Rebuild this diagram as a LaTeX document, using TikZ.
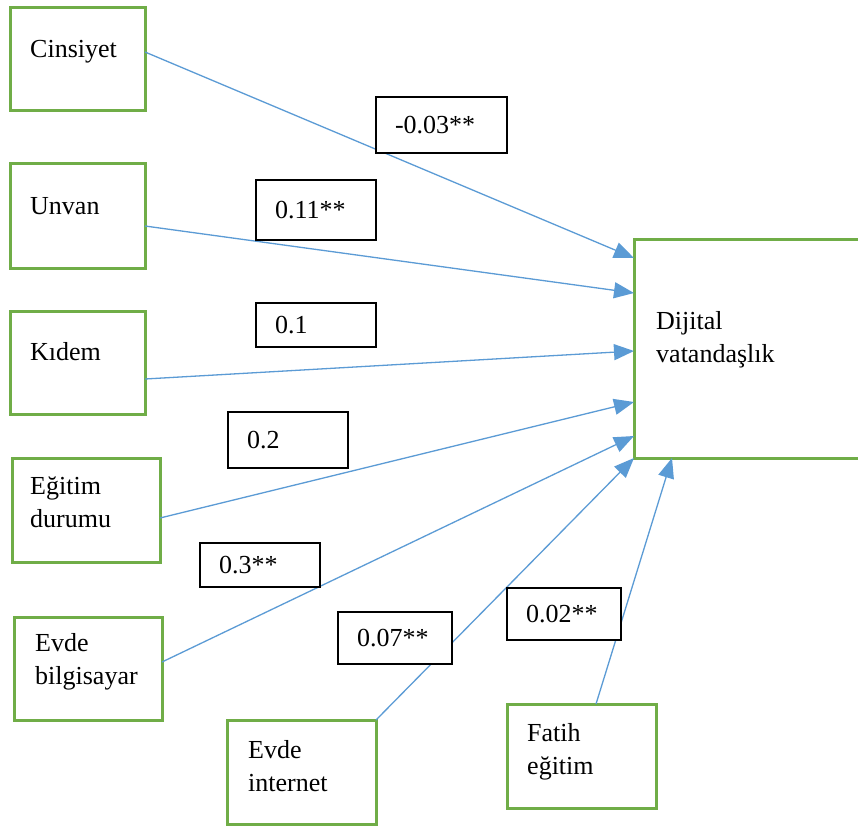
\documentclass[tikz,border=0pt]{standalone}
\usepackage{fontspec}
\setmainfont{Liberation Serif}
\usetikzlibrary{arrows.meta}
\definecolor{boxgreen}{RGB}{112,173,71}
\definecolor{arrowblue}{RGB}{91,155,213}
\tikzset{
  every node/.style={font=\fontsize{26}{33}\selectfont},
  varbox/.style={draw=boxgreen, line width=3pt, rectangle, outer sep=0pt, inner sep=0pt},
  varname/.style={anchor=base west, inner sep=0pt, align=left},
  coef/.style={draw=black, line width=1.4pt, fill=white, rectangle, inner xsep=19pt, inner ysep=0pt, align=left, outer sep=0pt},
  path/.style={draw=arrowblue, line width=1.3pt, -{Triangle[length=20pt,width=16pt]}},
}
\begin{document}
\begin{tikzpicture}[x=1pt,y=-1pt]
\useasboundingbox (0,0) rectangle (858,825);
\fill[white] (0,0) rectangle (858,825);

% predictor boxes
\node[varbox, minimum width=135pt, minimum height=103pt] (cin) at (77.5,58.5) {};
\node[varbox, minimum width=135pt, minimum height=105pt] (unv) at (77.5,215.5) {};
\node[varbox, minimum width=135pt, minimum height=103pt] (kid) at (77.5,362.5) {};
\node[varbox, minimum width=148pt, minimum height=104pt] (egi) at (86,510) {};
\node[varbox, minimum width=148pt, minimum height=103pt] (bil) at (88,668.5) {};
\node[varbox, minimum width=149pt, minimum height=104pt] (int) at (301.5,772) {};
\node[varbox, minimum width=149pt, minimum height=104pt] (fat) at (581.5,756) {};
% outcome box
\node[varbox, minimum width=236pt, minimum height=219pt] (dv) at (752,348.5) {};

% box captions (base anchor sits on the last line)
\node[varname] at (30,57) {Cinsiyet};
\node[varname] at (30,214) {Unvan};
\node[varname] at (30,360) {Kıdem};
\node[varname] at (30,527) {Eğitim\\durumu};
\node[varname] at (35,684) {Evde\\bilgisayar};
\node[varname] at (248,791) {Evde\\internet};
\node[varname] at (527,774) {Fatih\\eğitim};
\node[varname] at (656,362) {Dijital\\vatandaşlık};

% paths into the outcome
\draw[path] ([yshift=-45pt]cin.north east) -- ([yshift=-19pt]dv.north west);
\draw[path] ([yshift=-63pt]unv.north east) -- ([yshift=-54pt]dv.north west);
\draw[path] ([yshift=-68pt]kid.north east) -- ([yshift=-112pt]dv.north west);
\draw[path] ([yshift=-60pt]egi.north east) -- ([yshift=-163pt]dv.north west);
\draw[path] ([yshift=-45pt]bil.north east) -- ([yshift=-197pt]dv.north west);
\draw[path] (int.north east) -- (dv.south west);
\draw[path] ([xshift=89pt]fat.north west) -- ([xshift=38pt]dv.south west);

% path coefficients
\node[coef, text width=93pt, minimum height=56pt] (c1) at (441.5,125) {-0.03**};
\node[coef, text width=82pt, minimum height=60pt] (c2) at (316,210) {0.11**};
\node[coef, text width=82pt, minimum height=44pt] (c3) at (316,325) {0.1};
\node[coef, text width=82pt, minimum height=56pt] (c4) at (288,440) {0.2};
\node[coef, text width=82pt, minimum height=44pt] (c5) at (260,565) {0.3**};
\node[coef, text width=76pt, minimum height=52pt] (c6) at (395,638) {0.07**};
\node[coef, text width=76pt, minimum height=52pt] (c7) at (564,614) {0.02**};
\end{tikzpicture}
\end{document}
